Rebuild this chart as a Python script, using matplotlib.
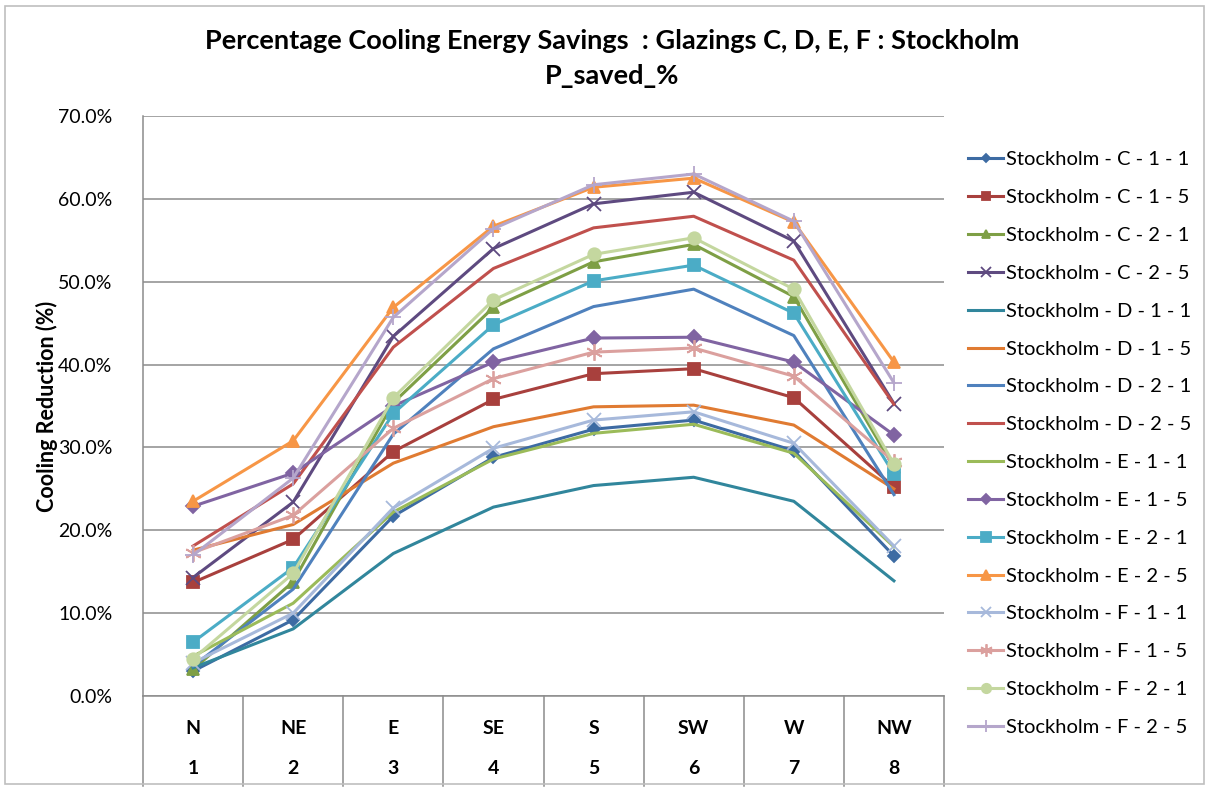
import matplotlib
matplotlib.use('Agg')
import matplotlib.pyplot as plt
from matplotlib.ticker import PercentFormatter, MultipleLocator
from matplotlib.lines import Line2D
from matplotlib.patches import Rectangle
import matplotlib.transforms as mtransforms

plt.rcParams['font.family'] = ['Lato', 'DejaVu Sans']

directions = ['N', 'NE', 'E', 'SE', 'S', 'SW', 'W', 'NW']
numbers = ['1', '2', '3', '4', '5', '6', '7', '8']

series_names = [
    'Stockholm - C - 1 - 1', 'Stockholm - C - 1 - 5', 'Stockholm - C - 2 - 1', 'Stockholm - C - 2 - 5',
    'Stockholm - D - 1 - 1', 'Stockholm - D - 1 - 5', 'Stockholm - D - 2 - 1', 'Stockholm - D - 2 - 5',
    'Stockholm - E - 1 - 1', 'Stockholm - E - 1 - 5', 'Stockholm - E - 2 - 1', 'Stockholm - E - 2 - 5',
    'Stockholm - F - 1 - 1', 'Stockholm - F - 1 - 5', 'Stockholm - F - 2 - 1', 'Stockholm - F - 2 - 5',
]

# cooling reduction, percent
c_1_1 = [3.0, 9.2, 21.7, 28.8, 32.2, 33.3, 29.6, 16.9]
c_1_5 = [13.7, 18.9, 29.5, 35.8, 38.9, 39.5, 36.0, 25.2]
c_2_1 = [3.2, 13.8, 35.4, 46.9, 52.4, 54.5, 48.2, 27.6]
c_2_5 = [14.3, 23.4, 43.4, 54.0, 59.4, 60.8, 54.9, 35.3]
d_1_1 = [3.4, 8.1, 17.2, 22.8, 25.4, 26.4, 23.5, 13.9]
d_1_5 = [17.6, 20.7, 28.1, 32.5, 34.9, 35.1, 32.7, 25.0]
d_2_1 = [3.6, 12.9, 31.6, 41.9, 47.0, 49.1, 43.5, 24.3]
d_2_5 = [18.1, 25.6, 42.1, 51.6, 56.5, 57.9, 52.6, 35.2]
e_1_1 = [4.8, 11.2, 22.2, 28.6, 31.7, 32.8, 29.3, 18.0]
e_1_5 = [22.9, 26.9, 35.0, 40.3, 43.2, 43.3, 40.3, 31.5]
e_2_1 = [6.5, 15.5, 34.1, 44.8, 50.1, 52.0, 46.2, 26.8]
e_2_5 = [23.5, 30.8, 46.9, 56.7, 61.4, 62.5, 57.2, 40.3]
f_1_1 = [4.0, 10.0, 22.7, 29.9, 33.3, 34.3, 30.5, 18.1]
f_1_5 = [17.3, 21.8, 32.3, 38.3, 41.5, 42.0, 38.6, 28.3]
f_2_1 = [4.5, 14.8, 36.0, 47.8, 53.3, 55.3, 49.1, 28.0]
f_2_5 = [17.0, 26.3, 45.7, 56.4, 61.7, 63.0, 57.3, 37.8]

all_series = [c_1_1, c_1_5, c_2_1, c_2_5, d_1_1, d_1_5, d_2_1, d_2_5,
              e_1_1, e_1_5, e_2_1, e_2_5, f_1_1, f_1_5, f_2_1, f_2_5]

colors = ['#3D6BA3', '#A8403D', '#7E9F45', '#5E4A80', '#31869C', '#E07B32', '#4F81BD', '#C0504D',
          '#9BBB59', '#8064A2', '#4BACC6', '#F79646', '#A7B9DB', '#DBA09E', '#C4D79F', '#B5A6CB']
markers = ['D', 's', '^', 'x', None, None, None, None,
           None, 'D', 's', '^', 'x', (6, 2, 0), 'o', '+']
msizes = [6, 8, 8, 10, 0, 0, 0, 0, 0, 7, 9, 9, 10, 12, 9, 11]

fig = plt.figure(figsize=(12.09, 7.87), dpi=100)
fig.patches.append(Rectangle((0.004, 0.004), 0.992, 0.988, transform=fig.transFigure,
                             fill=False, edgecolor='#BFBFBF', linewidth=1.2))

ax = fig.add_axes([143 / 1209, 91 / 787, 801 / 1209, 580 / 787])
x = list(range(1, 9))

for vals, name, col, mk, ms in zip(all_series, series_names, colors, markers, msizes):
    ax.plot(x, vals, color=col, linewidth=2.2, marker=mk, markersize=ms,
            markeredgewidth=1.3, markerfacecolor=col, markeredgecolor=col, label=name)

ax.set_xlim(0.5, 8.5)
ax.set_ylim(0, 70)
ax.yaxis.set_major_locator(MultipleLocator(10))
ax.yaxis.set_major_formatter(PercentFormatter(xmax=100, decimals=1))
ax.tick_params(axis='y', length=0, labelsize=14, pad=22)
ax.set_xticks([])
ax.grid(axis='y', color='#8C8C8C', linewidth=1.1)
ax.set_axisbelow(True)
for side in ['top', 'right', 'left', 'bottom']:
    ax.spines[side].set_color('#8C8C8C')
    ax.spines[side].set_linewidth(1.1)
ax.spines['top'].set_visible(False)
ax.spines['right'].set_visible(False)

# two-level category axis drawn as a small table
trans = mtransforms.blended_transform_factory(ax.transData, ax.transAxes)
for i in range(9):
    ax.add_line(Line2D([i + 0.5, i + 0.5], [0, -0.155], transform=trans,
                       color='#8C8C8C', linewidth=1.1, clip_on=False))
for xi, d, n in zip(x, directions, numbers):
    ax.text(xi, -0.056, d, transform=trans, ha='center', va='center',
            fontsize=14, fontweight='bold')
    ax.text(xi, -0.125, n, transform=trans, ha='center', va='center',
            fontsize=14, fontweight='bold')

ax.set_ylabel('Cooling Reduction (%)', fontsize=15.5, fontweight='bold', labelpad=0)

fig.text(0.506, 0.948, 'Percentage Cooling Energy Savings  : Glazings C, D, E, F : Stockholm',
         ha='center', va='center', fontsize=19.5, fontweight='bold')
fig.text(0.506, 0.903, 'P_saved_%', ha='center', va='center', fontsize=19.5, fontweight='bold')

ax.legend(loc='upper left', bbox_to_anchor=(1.02, 0.953), frameon=False,
          fontsize=14.5, handlelength=1.75, labelspacing=1.03, handletextpad=0.15,
          borderaxespad=0, markerscale=0.75)

fig.savefig('out.png', dpi=100)
